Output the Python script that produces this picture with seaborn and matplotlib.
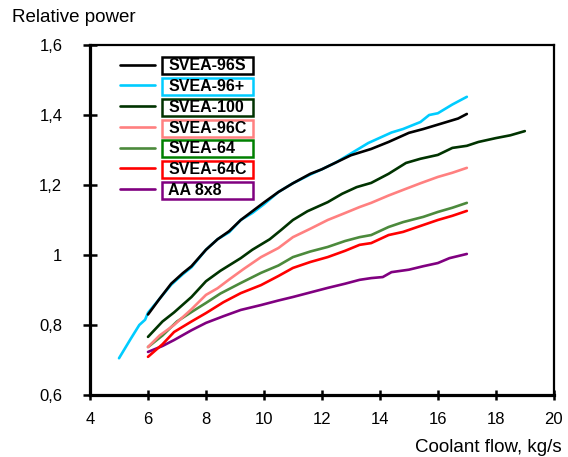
import numpy as np
import pandas as pd
import seaborn as sns
import matplotlib.pyplot as plt
from matplotlib.patches import Rectangle
from matplotlib.ticker import FuncFormatter

# Series (coolant flow kg/s -> relative power)
svea96s_x = [6.0, 6.4, 6.8, 7.2, 7.5, 8.0, 8.4, 8.8, 9.2, 9.6, 10.0, 10.5, 11.0, 11.6, 12.0, 12.5, 13.0, 13.7, 14.3, 15.0, 15.5, 16.3, 16.7, 17.0]
svea96s_y = [0.83, 0.875, 0.918, 0.948, 0.968, 1.015, 1.045, 1.068, 1.10, 1.125, 1.15, 1.18, 1.205, 1.232, 1.245, 1.265, 1.285, 1.303, 1.323, 1.349, 1.36, 1.38, 1.39, 1.403]

svea96p_x = [5.0, 5.4, 5.7, 5.9, 6.0, 6.4, 6.8, 7.2, 7.5, 8.0, 8.4, 8.8, 9.2, 9.6, 10.0, 10.5, 11.0, 11.6, 12.0, 12.5, 13.0, 13.6, 14.0, 14.4, 14.8, 15.4, 15.7, 16.0, 16.5, 17.0]
svea96p_y = [0.705, 0.76, 0.80, 0.815, 0.835, 0.875, 0.915, 0.945, 0.965, 1.015, 1.045, 1.065, 1.10, 1.12, 1.145, 1.18, 1.205, 1.23, 1.245, 1.265, 1.29, 1.32, 1.335, 1.35, 1.36, 1.38, 1.40, 1.405, 1.43, 1.452]

svea100_x = [6.0, 6.5, 6.9, 7.5, 8.0, 8.5, 9.2, 9.6, 10.2, 10.6, 11.0, 11.5, 12.2, 12.7, 13.2, 13.7, 14.3, 14.9, 15.4, 16.0, 16.5, 17.0, 17.4, 18.0, 18.5, 19.0]
svea100_y = [0.766, 0.81, 0.836, 0.88, 0.925, 0.955, 0.991, 1.015, 1.045, 1.072, 1.10, 1.125, 1.151, 1.175, 1.194, 1.206, 1.232, 1.263, 1.275, 1.286, 1.306, 1.312, 1.323, 1.334, 1.342, 1.354]

svea96c_x = [6.0, 6.4, 6.9, 7.5, 8.0, 8.4, 8.8, 9.3, 9.9, 10.5, 11.0, 11.6, 12.2, 12.8, 13.3, 13.7, 14.3, 14.8, 15.4, 16.0, 16.5, 17.0]
svea96c_y = [0.737, 0.77, 0.80, 0.845, 0.886, 0.905, 0.93, 0.96, 0.994, 1.02, 1.051, 1.075, 1.10, 1.12, 1.137, 1.149, 1.17, 1.186, 1.205, 1.223, 1.235, 1.249]

svea64_x = [6.0, 6.5, 7.0, 7.5, 8.0, 8.5, 9.2, 9.9, 10.5, 11.0, 11.6, 12.2, 12.8, 13.3, 13.7, 14.3, 14.8, 15.5, 16.0, 16.5, 17.0]
svea64_y = [0.737, 0.77, 0.81, 0.837, 0.863, 0.89, 0.92, 0.949, 0.97, 0.994, 1.01, 1.023, 1.04, 1.051, 1.057, 1.08, 1.094, 1.109, 1.123, 1.135, 1.149]

svea64c_x = [6.0, 6.5, 6.9, 7.5, 8.0, 8.6, 9.2, 9.9, 10.5, 11.0, 11.6, 12.2, 12.8, 13.3, 13.7, 14.3, 14.8, 15.4, 16.0, 16.5, 17.0]
svea64c_y = [0.709, 0.745, 0.78, 0.81, 0.834, 0.865, 0.891, 0.914, 0.94, 0.963, 0.98, 0.994, 1.012, 1.029, 1.034, 1.057, 1.066, 1.083, 1.10, 1.112, 1.126]

aa8x8_x = [6.0, 6.5, 6.9, 7.5, 8.0, 8.6, 9.2, 9.9, 10.5, 11.0, 11.6, 12.2, 12.8, 13.3, 13.7, 14.1, 14.4, 15.0, 15.5, 16.0, 16.4, 17.0]
aa8x8_y = [0.723, 0.74, 0.757, 0.785, 0.806, 0.825, 0.843, 0.857, 0.87, 0.88, 0.893, 0.906, 0.918, 0.929, 0.934, 0.937, 0.951, 0.958, 0.968, 0.977, 0.991, 1.003]

names = ['SVEA-96S', 'SVEA-96+', 'SVEA-100', 'SVEA-96C', 'SVEA-64', 'SVEA-64C', 'AA 8x8']
line_colors = ['#000000', '#00CCFF', '#003300', '#FF8080', '#4C8A3C', '#FF0000', '#800080']
box_colors = ['#000000', '#00CCFF', '#003300', '#FF8080', '#008000', '#FF0000', '#800080']

xs = [svea96s_x, svea96p_x, svea100_x, svea96c_x, svea64_x, svea64c_x, aa8x8_x]
ys = [svea96s_y, svea96p_y, svea100_y, svea96c_y, svea64_y, svea64c_y, aa8x8_y]

# long-form table for seaborn
frames = []
for n, x, y in zip(names, xs, ys):
    frames.append(pd.DataFrame({'flow': x, 'power': y, 'fuel': n}))
df = pd.concat(frames, ignore_index=True)

sns.set_theme(style='white')
plt.rcParams['font.family'] = ['Liberation Sans', 'DejaVu Sans']
plt.rcParams['text.color'] = 'black'

fig = plt.figure(figsize=(5.68, 4.57), dpi=100)
ax = fig.add_axes([0.1585, 0.1357, 0.8165, 0.7658])

# draw bottom series first so the black one sits on top of cyan like the original
for n in names[::-1]:
    i = names.index(n)
    sns.lineplot(data=df[df['fuel'] == n], x='flow', y='power', color=line_colors[i],
                 lw=1.9, sort=False, estimator=None, ax=ax, label=n)

ax.set_xlim(4, 20)
ax.set_ylim(0.6, 1.6)
ax.set_xticks(np.arange(4, 21, 2))
ax.set_yticks([0.6, 0.8, 1.0, 1.2, 1.4, 1.6])
ax.yaxis.set_major_formatter(FuncFormatter(lambda v, p: f'{v:g}'.replace('.', ',')))
ax.set_xlabel('')
ax.set_ylabel('')

for s in ['left', 'bottom']:
    ax.spines[s].set_linewidth(2.3)
    ax.spines[s].set_color('black')
for s in ['top', 'right']:
    ax.spines[s].set_linewidth(1.6)
    ax.spines[s].set_color('black')

ax.tick_params(axis='y', direction='inout', length=10, width=1.8, pad=15,
               labelsize=12, colors='black', left=True)
ax.tick_params(axis='x', direction='inout', length=7, width=1.8, pad=9,
               labelsize=12, colors='black', bottom=True)

fig.text(0.021, 0.952, 'Relative power', fontsize=13.5, va='baseline', ha='left')
fig.text(0.989, 0.011, 'Coolant flow, kg/s', fontsize=13.5, va='baseline', ha='right')

# legend in the original order
handles, labels = ax.get_legend_handles_labels()
lookup = dict(zip(labels, handles))
leg = ax.legend([lookup[n] for n in names], names, loc='upper left',
                bbox_to_anchor=(0.034, 1.003), frameon=False,
                prop={'weight': 'bold', 'size': 11.5}, handlelength=2.2,
                handletextpad=0.82, labelspacing=0.36)
for h in leg.get_lines():
    h.set_linewidth(1.9)
for t in leg.get_texts():
    t.set_color('black')

# coloured boxes round the legend labels, all the same width
fig.canvas.draw()
inv = ax.transAxes.inverted()
for t, c in zip(leg.get_texts(), box_colors):
    bb = t.get_window_extent()
    yc = (bb.y0 + bb.y1) / 2
    x0, y0 = inv.transform((bb.x0 - 6, yc - 8.5))
    x1, y1 = inv.transform((bb.x0 - 6 + 91, yc + 8.5))
    ax.add_patch(Rectangle((x0, y0), x1 - x0, y1 - y0, transform=ax.transAxes,
                           fill=False, edgecolor=c, lw=1.8, zorder=5, clip_on=False))

fig.savefig('out.png', dpi=100)
